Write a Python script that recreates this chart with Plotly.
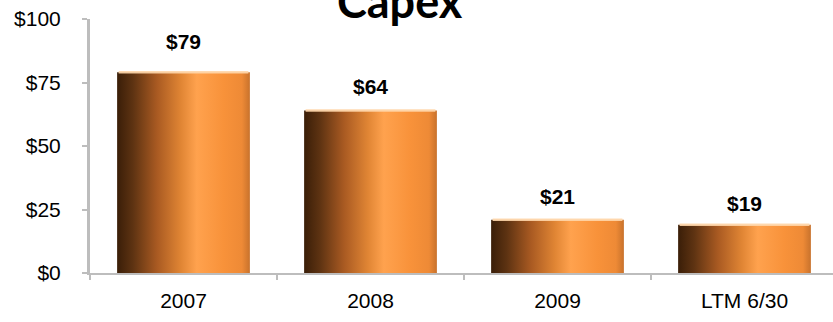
import plotly.graph_objects as go

# Capital expenditure by period ($ millions)
categories = ["2007", "2008", "2009", "LTM 6/30"]
capex = [79, 64, 21, 19]
value_labels = ["$79", "$64", "$21", "$19"]
y_ticks = [0, 25, 50, 75, 100]

BAR_WIDTH = 0.71
LABEL_SHIFT = [31, 24, 23, 21]  # pixel offset of each value label above its bar

# cylindrical shading across each bar, left to right
bar_scale = [
    [0.00, "#3a1e08"],
    [0.12, "#5e3312"],
    [0.30, "#a95a22"],
    [0.48, "#e08534"],
    [0.60, "#ffa24e"],
    [0.80, "#f8923a"],
    [0.94, "#ee8a36"],
    [1.00, "#c8722c"],
]

fig = go.Figure()

for i, v in enumerate(capex):
    x0, x1 = i - BAR_WIDTH / 2, i + BAR_WIDTH / 2
    fig.add_trace(go.Scatter(
        x=[x0, x1, x1, x0, x0],
        y=[0, 0, v, v, 0],
        mode="lines",
        line=dict(width=0),
        fill="toself",
        fillgradient=dict(type="horizontal", colorscale=bar_scale),
        hoverinfo="skip",
        showlegend=False,
    ))
    # light rim along the top of the cylinder
    fig.add_trace(go.Scatter(
        x=[x0 + 0.008, x1 - 0.008],
        y=[v, v],
        mode="lines",
        line=dict(color="rgba(255,214,170,0.9)", width=2.5),
        hoverinfo="skip",
        showlegend=False,
    ))
    fig.add_annotation(
        x=i, y=v, text=f"<b>{value_labels[i]}</b>", showarrow=False,
        yshift=LABEL_SHIFT[i], yanchor="middle",
        font=dict(family="Liberation Sans, Arial", size=21, color="#000000"),
    )

# category boundary tick marks on a twin axis
fig.add_trace(go.Scatter(x=[0], y=[0], xaxis="x2", mode="markers",
                         marker=dict(opacity=0), hoverinfo="skip", showlegend=False))

x_range = [-0.5, 3.5 - 5 / 187]

fig.add_annotation(
    xref="paper", yref="paper", x=(400 - 90) / 743, y=1, yanchor="bottom",
    yshift=-11, text="<b>Capex</b>", showarrow=False,
    font=dict(family="Lato, Open Sans", size=45, color="#000000"),
)

fig.update_layout(
    width=833, height=322,
    margin=dict(l=90, r=0, t=19, b=49),
    plot_bgcolor="white", paper_bgcolor="white",
    font=dict(family="Liberation Sans, Arial", size=20, color="#000000"),
    xaxis=dict(
        range=x_range, tickvals=list(range(len(categories))), ticktext=categories,
        ticks="", showgrid=False, zeroline=False, showline=True,
        linecolor="#bdbdbd", linewidth=2, ticklabelstandoff=8,
        tickfont=dict(size=21),
    ),
    xaxis2=dict(
        range=x_range, overlaying="x", side="bottom", anchor="y",
        tickvals=[-0.5, 0.5, 1.5, 2.5, 3.5], ticktext=["", "", "", "", ""],
        ticks="outside", ticklen=6, tickcolor="#bdbdbd", tickwidth=2,
        showgrid=False, zeroline=False, showline=False,
    ),
    yaxis=dict(
        range=[0, 100], tickvals=y_ticks, ticktext=[f"${t}" for t in y_ticks],
        ticks="outside", ticklen=5, tickcolor="#bdbdbd", tickwidth=2,
        showgrid=False, zeroline=False, showline=True,
        linecolor="#bdbdbd", linewidth=3, ticklabelstandoff=17,
        tickfont=dict(size=21),
    ),
)

fig.write_html("out.html")
